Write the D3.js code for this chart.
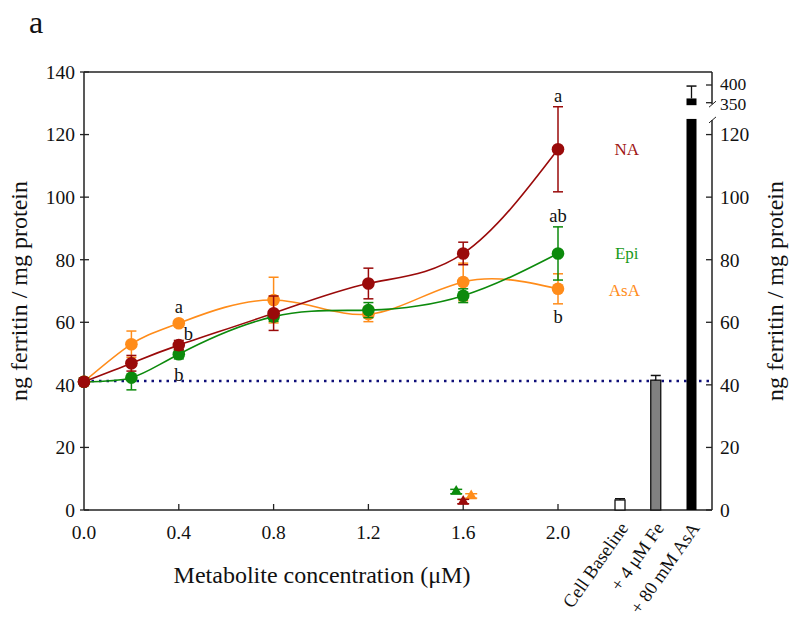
<!DOCTYPE html>
<html><head><meta charset="utf-8">
<script src="https://cdn.jsdelivr.net/npm/d3@7"></script>
<style>body{margin:0;background:#fff} svg{font-family:"Liberation Serif","Times New Roman",serif}</style>
</head><body><svg id="c" width="790" height="623"></svg>
<script>
// ---------- data ----------
const conc = [0, 0.2, 0.4, 0.8, 1.2, 1.6, 2.0];
const naMean  = [41.0, 46.9, 52.7, 62.9, 72.4, 82.0, 115.3];
const naErr   = [1.0, 2.5, 1.5, 5.5, 4.9, 3.6, 13.6];
const epiMean = [41.0, 42.3, 49.8, 61.8, 63.9, 68.5, 82.0];
const epiErr  = [1.0, 3.9, 1.5, 1.5, 2.4, 2.2, 8.5];
const asaMean = [41.0, 53.0, 59.7, 67.1, 62.6, 72.9, 70.7];
const asaErr  = [1.0, 4.2, 1.0, 7.3, 2.4, 6.0, 4.8];
const seriesNames = ["NA", "Epi", "AsA"];
const aloneConc = 1.6;               // metabolite alone (no cells) markers
const aloneMean = [2.7, 5.9, 4.5];
const aloneErr  = [0.7, 0.7, 0.7];
const controls = ["Cell Baseline", "+ 4 \u03bcM Fe", "+ 80 mM AsA"];
const controlMean = [3.2, 41.5, 362];
const controlErr  = [0.4, 1.5, 35];
const baselineLevel = 41.2;
const leftTicks = [0, 20, 40, 60, 80, 100, 120, 140];
const xTicks = [0.0, 0.4, 0.8, 1.2, 1.6, 2.0];
const rightTicksLow = [0, 20, 40, 60, 80, 100, 120];
const rightTicksHigh = [350, 400];
const sigLabels = [
  {x: 0.4, v: 64.6, t: "a"}, {x: 0.44, v: 56.2, t: "b"}, {x: 0.4, v: 43.1, t: "b"},
  {x: 2.0, v: 132.1, t: "a"}, {x: 2.0, v: 93.7, t: "ab"}, {x: 2.0, v: 61.4, t: "b"}
];

// ---------- layout ----------
const L = 84, R = 712, T = 72, B = 510;
const colors = ["#9a0a0a", "#0c8a0c", "#ff8c1a"];
const labelColors = ["#a01515", "#1a9a1a", "#ff8c1a"];
const TICK_FS = 19.5, TITLE_FS = 24;
const svg = d3.select("#c");
const x = d3.scaleLinear().domain([0, 2]).range([L, 558]);
const y = d3.scaleLinear().domain([0, 140]).range([B, T]);
const yHigh = d3.scaleLinear().domain([350, 400]).range([102.7, 85]);
const xc = d3.scalePoint().domain(controls).range([620, 691.5]);
const lowBreak = 125, highBreak = 343;

// frame: left axis, bottom, top
svg.append("line").attr("x1", L).attr("x2", R).attr("y1", T).attr("y2", T).attr("stroke", "#222").attr("stroke-width", 1.5);
svg.append("line").attr("x1", L).attr("x2", R).attr("y1", B).attr("y2", B).attr("stroke", "#222").attr("stroke-width", 1.5);
svg.append("line").attr("x1", L).attr("x2", L).attr("y1", T).attr("y2", B).attr("stroke", "#222").attr("stroke-width", 1.5);
// right axis broken
svg.append("line").attr("x1", R).attr("x2", R).attr("y1", B).attr("y2", y(lowBreak) + 1).attr("stroke", "#222").attr("stroke-width", 1.5);
svg.append("line").attr("x1", R).attr("x2", R).attr("y1", yHigh(highBreak) - 1).attr("y2", T).attr("stroke", "#222").attr("stroke-width", 1.5);
[y(lowBreak) + 1, yHigh(highBreak) - 1].forEach(yy => {
  svg.append("line").attr("x1", R - 3).attr("x2", R + 4).attr("y1", yy + 3).attr("y2", yy - 3).attr("stroke", "#222").attr("stroke-width", 1);
});

// left ticks
const gl = svg.append("g");
leftTicks.forEach(v => {
  gl.append("line").attr("x1", L - 4).attr("x2", L + 5).attr("y1", y(v)).attr("y2", y(v)).attr("stroke", "#222").attr("stroke-width", 1.3);
  gl.append("text").attr("x", L - 9).attr("y", y(v)).attr("dy", "0.35em").attr("text-anchor", "end").attr("font-size", TICK_FS).attr("fill", "#111").text(v);
});
// bottom ticks
xTicks.forEach(v => {
  if (v > 0) svg.append("line").attr("x1", x(v)).attr("x2", x(v)).attr("y1", B).attr("y2", B - 6).attr("stroke", "#222").attr("stroke-width", 1.3);
  svg.append("text").attr("x", x(v)).attr("y", 539).attr("text-anchor", "middle").attr("font-size", TICK_FS).attr("fill", "#111").text(d3.format(".1f")(v));
});
// right ticks
rightTicksLow.forEach(v => {
  svg.append("line").attr("x1", R - 6).attr("x2", R).attr("y1", y(v)).attr("y2", y(v)).attr("stroke", "#222").attr("stroke-width", 1.3);
  svg.append("text").attr("x", R + 8).attr("y", y(v)).attr("dy", "0.35em").attr("font-size", TICK_FS).attr("fill", "#111").text(v);
});
rightTicksHigh.forEach((v, i) => {
  svg.append("line").attr("x1", R - 6).attr("x2", R).attr("y1", yHigh(v)).attr("y2", yHigh(v)).attr("stroke", "#222").attr("stroke-width", 1.3);
  svg.append("text").attr("x", R + 8).attr("y", yHigh(v) + (i === 0 ? 1.6 : -1.6)).attr("dy", "0.35em").attr("font-size", 17.5).attr("fill", "#111").text(v);
});

// dotted baseline
svg.append("line").attr("x1", L).attr("x2", R).attr("y1", y(baselineLevel)).attr("y2", y(baselineLevel))
  .attr("stroke", "#10107a").attr("stroke-width", 2.5).attr("stroke-dasharray", "2.5,5");

// control bars
const barW = 10;
const barFill = ["#ffffff", "#808080", "#000000"];
controls.forEach((c, i) => {
  const cx = xc(c);
  if (i < 2) {
    svg.append("rect").attr("x", cx - barW / 2).attr("width", barW).attr("y", y(controlMean[i])).attr("height", B - y(controlMean[i]))
      .attr("fill", barFill[i]).attr("stroke", "#111").attr("stroke-width", 1.3);
    const top = y(controlMean[i] + controlErr[i]);
    svg.append("line").attr("x1", cx).attr("x2", cx).attr("y1", y(controlMean[i])).attr("y2", top).attr("stroke", "#111").attr("stroke-width", 1.3);
    svg.append("line").attr("x1", cx - 5).attr("x2", cx + 5).attr("y1", top).attr("y2", top).attr("stroke", "#111").attr("stroke-width", 1.5);
  } else {
    svg.append("rect").attr("x", cx - barW / 2).attr("width", barW).attr("y", y(lowBreak)).attr("height", B - y(lowBreak)).attr("fill", "#000");
    svg.append("rect").attr("x", cx - barW / 2).attr("width", barW).attr("y", yHigh(controlMean[i])).attr("height", yHigh(highBreak) - yHigh(controlMean[i])).attr("fill", "#000");
    const top = yHigh(controlMean[i] + controlErr[i]);
    svg.append("line").attr("x1", cx).attr("x2", cx).attr("y1", yHigh(controlMean[i])).attr("y2", top).attr("stroke", "#111").attr("stroke-width", 1.3);
    svg.append("line").attr("x1", cx - 5).attr("x2", cx + 5).attr("y1", top).attr("y2", top).attr("stroke", "#111").attr("stroke-width", 1.5);
  }
  svg.append("text").attr("transform", `translate(${cx + 9},${528}) rotate(-55)`).attr("text-anchor", "end")
    .attr("font-size", 18.5).attr("fill", "#111").text(c);
});

// series
const means = [naMean, epiMean, asaMean];
const errs = [naErr, epiErr, asaErr];
const line = d3.line().x(d => x(d[0])).y(d => y(d[1])).curve(d3.curveNatural);
[2, 1, 0].forEach(s => {
  const pts = conc.map((c, i) => [c, means[s][i]]);
  svg.append("path").attr("d", line(pts)).attr("fill", "none").attr("stroke", colors[s]).attr("stroke-width", 1.6);
});
[2, 1, 0].forEach(s => {
  const g = svg.append("g");
  conc.forEach((c, i) => {
    const m = means[s][i], e = errs[s][i];
    const cx = x(c);
    g.append("line").attr("x1", cx).attr("x2", cx).attr("y1", y(m - e)).attr("y2", y(m + e)).attr("stroke", colors[s]).attr("stroke-width", 1.5);
    [m - e, m + e].forEach(v => g.append("line").attr("x1", cx - 5).attr("x2", cx + 5).attr("y1", y(v)).attr("y2", y(v)).attr("stroke", colors[s]).attr("stroke-width", 1.5));
    g.append("circle").attr("cx", cx).attr("cy", y(m)).attr("r", 6.3).attr("fill", colors[s]);
  });
});

// alone markers (triangles)
const aloneOffset = [0, -7, 8];
[1, 2, 0].forEach(s => {
  const cx = x(aloneConc) + aloneOffset[s];
  const m = aloneMean[s], e = aloneErr[s];
  svg.append("line").attr("x1", cx).attr("x2", cx).attr("y1", y(m - e)).attr("y2", y(m + e)).attr("stroke", colors[s]).attr("stroke-width", 1.3);
  [m - e, m + e].forEach(v => svg.append("line").attr("x1", cx - 6).attr("x2", cx + 6).attr("y1", y(v)).attr("y2", y(v)).attr("stroke", colors[s]).attr("stroke-width", 1.5));
  svg.append("path").attr("d", d3.symbol(d3.symbolTriangle, 55)()).attr("transform", `translate(${cx},${y(m)})`).attr("fill", colors[s]);
});

// series labels
const labelPos = [{x: 2.29, v: 115.5}, {x: 2.29, v: 82.2}, {x: 2.28, v: 70.4}];
seriesNames.forEach((n, s) => {
  svg.append("text").attr("x", x(labelPos[s].x)).attr("y", y(labelPos[s].v)).attr("dy", "0.35em").attr("text-anchor", "middle")
    .attr("font-size", 17).attr("fill", labelColors[s]).text(n);
});

// significance letters
sigLabels.forEach(d => {
  svg.append("text").attr("x", x(d.x)).attr("y", y(d.v)).attr("dy", "0.3em").attr("text-anchor", "middle")
    .attr("font-size", 18.5).attr("fill", "#111").text(d.t);
});

// titles
svg.append("text").attr("transform", "translate(27,291) rotate(-90)").attr("text-anchor", "middle").attr("font-size", TITLE_FS).attr("fill", "#111").text("ng ferritin / mg protein");
svg.append("text").attr("transform", "translate(783,291) rotate(-90)").attr("text-anchor", "middle").attr("font-size", TITLE_FS).attr("fill", "#111").text("ng ferritin / mg protein");
svg.append("text").attr("x", 322).attr("y", 583).attr("text-anchor", "middle").attr("font-size", TITLE_FS).attr("fill", "#111").text("Metabolite concentration (\u03bcM)");
svg.append("text").attr("x", 29).attr("y", 33).attr("font-size", 32).attr("fill", "#111").text("a");
</script></body></html>
